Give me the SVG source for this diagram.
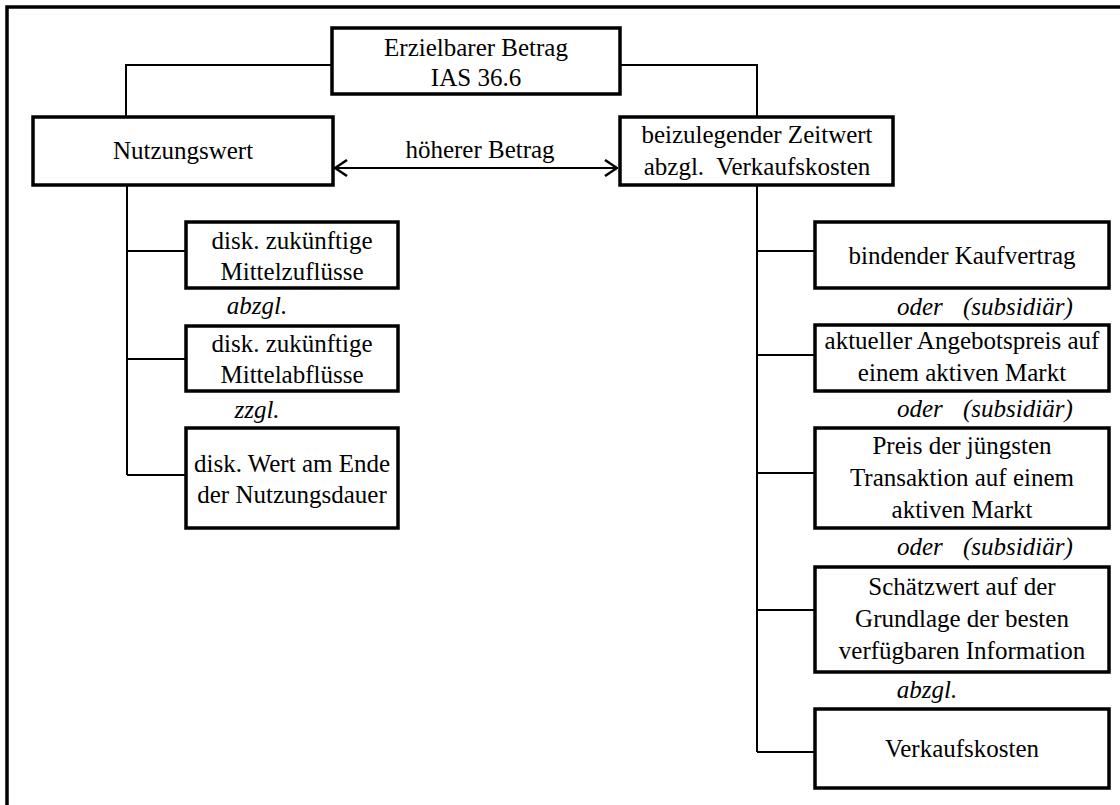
<svg xmlns="http://www.w3.org/2000/svg" width="1120" height="805" viewBox="0 0 1120 805">
<defs>
<style>
.box{fill:#fff;stroke:#000;stroke-width:3.5}
.ln{fill:none;stroke:#000;stroke-width:2}
.frame{fill:none;stroke:#000;stroke-width:3.5}
text{font-family:"Liberation Serif","Times New Roman",serif;font-size:25px;fill:#000}
.c{text-anchor:middle}
.i{font-style:italic}
</style>
<marker id="ah" viewBox="0 0 14 18" refX="13" refY="9" markerWidth="14" markerHeight="18" markerUnits="userSpaceOnUse" orient="auto-start-reverse">
<path d="M1,1 L13,9 L1,17" fill="none" stroke="#000" stroke-width="2.5"/>
</marker>
</defs>
<rect width="1120" height="805" fill="#fff"/>
<path class="frame" d="M7,805 V7 H1120"/>
<g id="connectors">
<path class="ln" d="M332,65 H126 V117"/>
<path class="ln" d="M620,65 H757 V117"/>
<line class="ln" x1="335" y1="168" x2="617" y2="168" marker-start="url(#ah)" marker-end="url(#ah)"/>
<path class="ln" d="M127,185 V475"/>
<path class="ln" d="M127,251 H186 M127,359 H186 M127,475 H186"/>
<path class="ln" d="M757,185 V752"/>
<path class="ln" d="M757,251 H815 M757,355 H815 M757,473 H815 M757,610 H815 M757,752 H815"/>
<text class="c" x="480" y="158">höherer Betrag</text>
<text class="c i" x="257" y="314">abzgl.</text>
<text class="c i" x="257" y="418">zzgl.</text>
<text class="i" x="897" y="315">oder</text><text class="i" x="963" y="315">(subsidiär)</text>
<text class="i" x="897" y="417">oder</text><text class="i" x="963" y="417">(subsidiär)</text>
<text class="i" x="897" y="555">oder</text><text class="i" x="963" y="555">(subsidiär)</text>
<text class="c i" x="927" y="698">abzgl.</text>
</g>
<g id="n-erzielbar">
<rect class="box" x="332" y="28" width="288" height="66"/>
<text class="c" x="476" y="56">Erzielbarer Betrag</text>
<text class="c" x="476" y="86">IAS 36.6</text>
</g>
<g id="n-nutzungswert">
<rect class="box" x="33" y="117" width="300" height="68"/>
<text class="c" x="183" y="159">Nutzungswert</text>
</g>
<g id="n-zeitwert">
<rect class="box" x="620" y="117" width="273" height="68"/>
<text class="c" x="757" y="143">beizulegender Zeitwert</text>
<text class="c" x="757" y="175" xml:space="preserve">abzgl.  Verkaufskosten</text>
</g>
<g id="n-zufluesse">
<rect class="box" x="186" y="222" width="212" height="66"/>
<text class="c" x="292" y="249">disk. zukünftige</text>
<text class="c" x="292" y="280">Mittelzuflüsse</text>
</g>
<g id="n-abfluesse">
<rect class="box" x="186" y="326" width="212" height="65"/>
<text class="c" x="292" y="352">disk. zukünftige</text>
<text class="c" x="292" y="383">Mittelabflüsse</text>
</g>
<g id="n-endwert">
<rect class="box" x="186" y="428" width="212" height="100"/>
<text class="c" x="292" y="472">disk. Wert am Ende</text>
<text class="c" x="292" y="503">der Nutzungsdauer</text>
</g>
<g id="n-kaufvertrag">
<rect class="box" x="815" y="222" width="294" height="66"/>
<text class="c" x="962" y="264">bindender Kaufvertrag</text>
</g>
<g id="n-angebotspreis">
<rect class="box" x="815" y="325" width="294" height="66"/>
<text class="c" x="962" y="349">aktueller Angebotspreis auf</text>
<text class="c" x="962" y="381">einem aktiven Markt</text>
</g>
<g id="n-transaktion">
<rect class="box" x="815" y="428" width="294" height="100"/>
<text class="c" x="962" y="454">Preis der jüngsten</text>
<text class="c" x="962" y="486">Transaktion auf einem</text>
<text class="c" x="962" y="518">aktiven Markt</text>
</g>
<g id="n-schaetzwert">
<rect class="box" x="815" y="567" width="294" height="105"/>
<text class="c" x="962" y="595">Schätzwert auf der</text>
<text class="c" x="962" y="627">Grundlage der besten</text>
<text class="c" x="962" y="659">verfügbaren Information</text>
</g>
<g id="n-verkaufskosten">
<rect class="box" x="815" y="709" width="294" height="79"/>
<text class="c" x="962" y="757">Verkaufskosten</text>
</g>
</svg>
